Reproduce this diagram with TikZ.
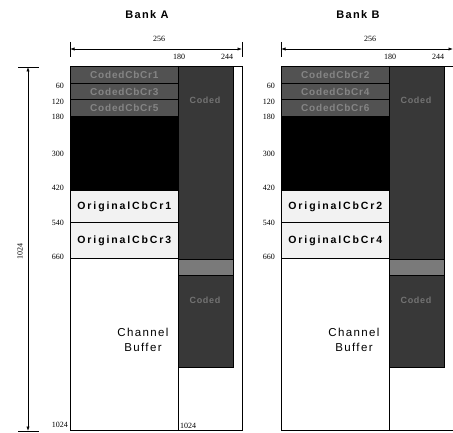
\documentclass[tikz,border=0pt]{standalone}
\usepackage{fontspec}
\setmainfont{Liberation Serif}
\newfontfamily\titlefont{Liberation Sans}[LetterSpace=12]
\newfontfamily\boxfont{Liberation Sans}[LetterSpace=18]
\newfontfamily\rowfont{Liberation Sans}[LetterSpace=8]
\newfontfamily\bufont{Liberation Sans}[LetterSpace=12]
\usetikzlibrary{arrows.meta}
\tikzset{
  num/.style={font=\fontsize{8}{9}\selectfont, inner sep=0pt},
  blk/.style={draw=black, line width=0.7pt, anchor=north west, inner sep=0pt, minimum width=108},
  rowgray/.style={blk, fill=black!68, text=black!48, font=\rowfont\bfseries\fontsize{10}{11}\selectfont},
  solidblk/.style={blk, fill=black},
  origbox/.style={blk, fill=black!5, font=\boxfont\bfseries\fontsize{10.5}{12}\selectfont},
  bufbox/.style={blk, fill=white},
  colgray/.style={draw=black, line width=0.7pt, anchor=north west, inner sep=0pt, minimum width=55, fill=black!78},
  colband/.style={colgray, fill=black!52},
  faint/.style={text=black!55, font=\rowfont\bfseries\fontsize{9}{10}\selectfont, inner sep=0pt},
  frame/.style={draw=black, line width=0.8pt},
  dimline/.style={line width=0.7pt, {Latex[length=4.5pt,width=3.2pt]}-{Latex[length=4.5pt,width=3.2pt]}},
  tick/.style={line width=0.8pt},
  banktitle/.style={font=\titlefont\bfseries\fontsize{11}{12}\selectfont, inner sep=0pt}
}
% #1 prefix, #2 x offset, #3 #4 #5 coded rows, #6 #7 original boxes, #8 title
\newcommand\mybank[8]{%
\begin{scope}[shift={(#2,0)}]
  \node[banktitle] (#1title) at (147,15) {#8};
  % frame
  \node[draw=black, line width=0.8pt, anchor=north west, inner sep=0pt,
        minimum width=172, minimum height=364] (#1frame) at (70,66) {};
  % left column
  \node[rowgray, minimum height=17]   (#1r1) at (70,66)   {#3};
  \node[rowgray, minimum height=16.5] (#1r2) at (70,83)   {#4};
  \node[rowgray, minimum height=16.5] (#1r3) at (70,99.5) {#5};
  \node[solidblk, minimum height=74]  (#1blk) at (70,116) {};
  \node[origbox, minimum height=32]   (#1o1) at (70,190)  {#6};
  \node[origbox, minimum height=36]   (#1o2) at (70,222)  {#7};
  \node[bufbox, minimum height=172]   (#1cb) at (70,258)  {};
  \node[font=\bufont\fontsize{11.5}{15}\selectfont, align=center, inner sep=0pt]
        (#1cbt) at (143,340) {Channel\\Buffer};
  % right column
  \node[colgray, minimum height=193] (#1y1) at (178,66)  {};
  \node[colband, minimum height=16]  (#1yb) at (178,259) {};
  \node[colgray, minimum height=92]  (#1y2) at (178,275) {};
  \node[faint] (#1y1t) at (205,100) {Coded};
  \node[faint] (#1y2t) at (205,300) {Coded};
  \draw[frame] (178,66) -- (178,430);
  % row labels
  \node[num, anchor=east] (#1l60)  at (64,86)  {60};
  \node[num, anchor=east] (#1l120) at (64,102) {120};
  \node[num, anchor=east] (#1l180) at (64,117) {180};
  \node[num, anchor=east] (#1l300) at (64,154) {300};
  \node[num, anchor=east] (#1l420) at (64,188) {420};
  \node[num, anchor=east] (#1l540) at (64,223) {540};
  \node[num, anchor=east] (#1l660) at (64,257) {660};
  % horizontal dimension
  \coordinate (#1hl) at (70,49);
  \coordinate (#1hr) at (242,49);
  \draw[dimline] (#1hl) -- (#1hr);
  \draw[tick] ([yshift=7]#1hl) -- ([yshift=-8]#1hl);
  \draw[tick] ([yshift=7]#1hr) -- ([yshift=-8]#1hr);
  \node[num] (#1d256) at (159,39) {256};
  \node[num] (#1d180) at (179,57) {180};
  \node[num] (#1d244) at (227,57) {244};
\end{scope}}

\begin{document}
\begin{tikzpicture}[x=1pt, y=-1pt]
  \useasboundingbox[fill=white] (0,0) rectangle (453,433);
  \mybank{A}{0}{CodedCbCr1}{CodedCbCr3}{CodedCbCr5}{OriginalCbCr1}{OriginalCbCr3}{Bank A}
  \mybank{B}{211}{CodedCbCr2}{CodedCbCr4}{CodedCbCr6}{OriginalCbCr2}{OriginalCbCr4}{Bank B}
  % vertical dimension (Bank A only)
  \coordinate (vt) at (28,67);
  \coordinate (vb) at (28,431);
  \draw[dimline] (vt) -- (vb);
  \draw[tick] ([xshift=-10]vt) -- ([xshift=11]vt);
  \draw[tick] ([xshift=-10]vb) -- ([xshift=11]vb);
  \node[num, rotate=90] (v1024) at (20,251) {1024};
  \node[num, anchor=east] (Al1024) at (68,425) {1024};
  \node[num, anchor=west] (Ar1024) at (180,426) {1024};
\end{tikzpicture}
\end{document}
